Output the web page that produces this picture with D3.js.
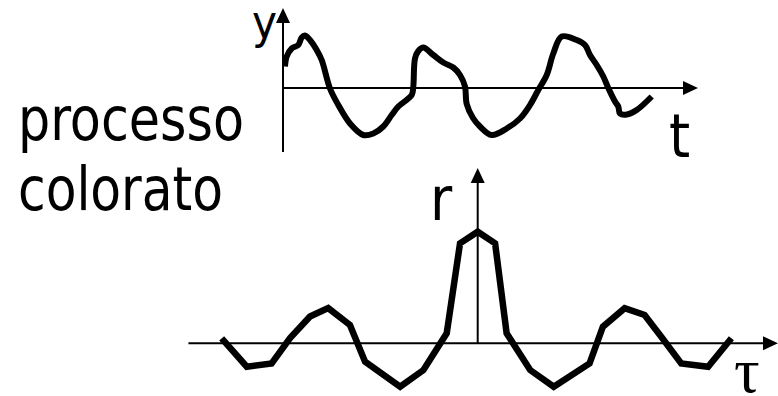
<!DOCTYPE html>
<html>

<head>
    <meta charset="utf-8">
    <title>processo colorato</title>
    <style>
        body {
            margin: 0;
            background: #fff;
        }

        svg {
            display: block;
        }

        .lbl {
            font-family: 'DejaVu Sans Condensed', 'DejaVu Sans', Tahoma, sans-serif;
            fill: #000;
        }
    </style>
    <script src="https://cdnjs.cloudflare.com/ajax/libs/d3/7.8.5/d3.min.js"></script>
</head>

<body>
    <div id="chart"></div>
    <script>
        // top panel: a sample of the coloured process y(t)
        const procT = [0.2, 0.37, 0.87, 1.53, 1.87, 2.2, 2.7, 3.37, 3.87, 4.7, 5.53, 6.7, 8.03, 9.03, 10.03,
            10.87, 11.53, 12.87, 13.03, 13.2, 13.53, 14.03, 15.03, 16.03, 17.03, 17.7, 18.2, 18.37, 19.0,
            19.7, 20.87, 22.37, 23.7, 24.7, 25.53, 26.37, 27.03, 27.87, 29.37, 30.2, 30.7, 31.37, 32.03,
            32.53, 33.2, 33.53, 33.7, 34.37, 35.37, 36.87];
        const procY = [0.43, 0.63, 0.79, 0.86, 1.01, 1.05, 0.96, 0.76, 0.56, -0.01, -0.34, -0.71, -0.94, -0.91, -0.77,
            -0.54, -0.37, -0.14, 0.03, 0.59, 0.74, 0.81, 0.66, 0.51, 0.41, 0.26, 0.03, -0.32, -0.6,
            -0.77, -0.94, -0.81, -0.61, -0.34, -0.04, 0.26, 0.69, 1.03, 0.96, 0.86, 0.66, 0.46, 0.23,
            0, -0.27, -0.37, -0.51, -0.53, -0.44, -0.17];

        // bottom panel: its autocorrelation r(tau)
        const corrTau = [-10, -9.02, -8.05, -7.33, -6.55, -5.84, -4.99, -4.4, -3.03, -2.12, -1.21, -0.69, 0,
            0.68, 1.13, 2.05, 2.97, 4.37, 4.89, 5.74, 6.52, 7.17, 7.95, 9.0, 9.91];
        const corrR = [0.045, -0.21, -0.18, 0.047, 0.24, 0.315, 0.164, -0.165, -0.389, -0.24, 0.09, 0.896, 1,
            0.896, 0.09, -0.24, -0.389, -0.18, 0.149, 0.314, 0.254, 0.059, -0.18, -0.21, 0.045];

        const textLines = ['processo', 'colorato'];

        const width = 778, height = 396;
        const svg = d3.select('#chart')
            .append('svg')
            .attr('width', width)
            .attr('height', height);

        // scales
        const xTop = d3.scaleLinear().domain([0, 40]).range([283, 683]);
        const yTop = d3.scaleLinear().domain([-1, 1]).range([138, 38]);
        const xBot = d3.scaleLinear().domain([-10, 10]).range([221.7, 733.7]);
        const yBot = d3.scaleLinear().domain([0, 1]).range([343.3, 231.7]);

        const arrowLen = 15, arrowHalf = 7;

        function axisLine(x1, y1, x2, y2) {
            svg.append('line')
                .attr('x1', x1).attr('y1', y1)
                .attr('x2', x2).attr('y2', y2)
                .attr('stroke', '#000')
                .attr('stroke-width', 2);
        }

        // arrowhead pointing right or up, tip at (x, y)
        function arrow(x, y, dir) {
            const pts = dir === 'right'
                ? [[x, y], [x - arrowLen, y - arrowHalf], [x - arrowLen, y + arrowHalf]]
                : [[x, y], [x - arrowHalf, y + arrowLen], [x + arrowHalf, y + arrowLen]];
            svg.append('path')
                .attr('d', d3.line()(pts) + 'Z')
                .attr('fill', '#000');
        }

        // top axes
        axisLine(xTop(0), yTop(0), xTop(40), yTop(0));
        arrow(xTop(41.5), yTop(0), 'right');
        axisLine(xTop(0), yTop(-1.28), xTop(0), yTop(1.3));
        arrow(xTop(0), yTop(1.6), 'up');

        // bottom axes
        axisLine(xBot(-11.3), yBot(0), xBot(11.15), yBot(0));
        arrow(xBot(11.73), yBot(0), 'right');
        axisLine(xBot(0), yBot(0), xBot(0), yBot(1.44));
        arrow(xBot(0), yBot(1.57), 'up');

        // process curve
        const procData = procT.map((t, i) => ({ t: t, y: procY[i] }));
        svg.append('path')
            .datum(procData)
            .attr('fill', 'none')
            .attr('stroke', '#000')
            .attr('stroke-width', 6)
            .attr('stroke-linejoin', 'round')
            .attr('d', d3.line()
                .x(d => xTop(d.t))
                .y(d => yTop(d.y))
                .curve(d3.curveCatmullRom.alpha(0.5)));

        // autocorrelation polyline
        const corrData = corrTau.map((t, i) => ({ tau: t, r: corrR[i] }));
        svg.append('path')
            .datum(corrData)
            .attr('fill', 'none')
            .attr('stroke', '#000')
            .attr('stroke-width', 6.5)
            .attr('stroke-linejoin', 'miter')
            .attr('d', d3.line()
                .x(d => xBot(d.tau))
                .y(d => yBot(d.r)));

        // labels
        svg.selectAll('text.side')
            .data(textLines)
            .join('text')
            .attr('class', 'lbl side')
            .attr('x', 18)
            .attr('y', (d, i) => 140 + i * 70)
            .attr('font-size', 60)
            .attr('textLength', (d, i) => i === 0 ? 226 : 205)
            .attr('lengthAdjust', 'spacingAndGlyphs')
            .text(d => d);

        svg.append('text').attr('class', 'lbl')
            .attr('x', 252).attr('y', 38)
            .attr('font-size', 47)
            .text('y');

        svg.append('text').attr('class', 'lbl')
            .attr('x', 669).attr('y', 157)
            .attr('font-size', 60)
            .text('t');

        svg.append('text').attr('class', 'lbl')
            .attr('x', 430).attr('y', 220)
            .attr('font-size', 60)
            .text('r');

        svg.append('text')
            .attr('x', 734).attr('y', 392)
            .attr('font-family', "'Liberation Serif', 'DejaVu Serif', serif")
            .attr('font-size', 64)
            .text('τ');
    </script>
</body>

</html>
